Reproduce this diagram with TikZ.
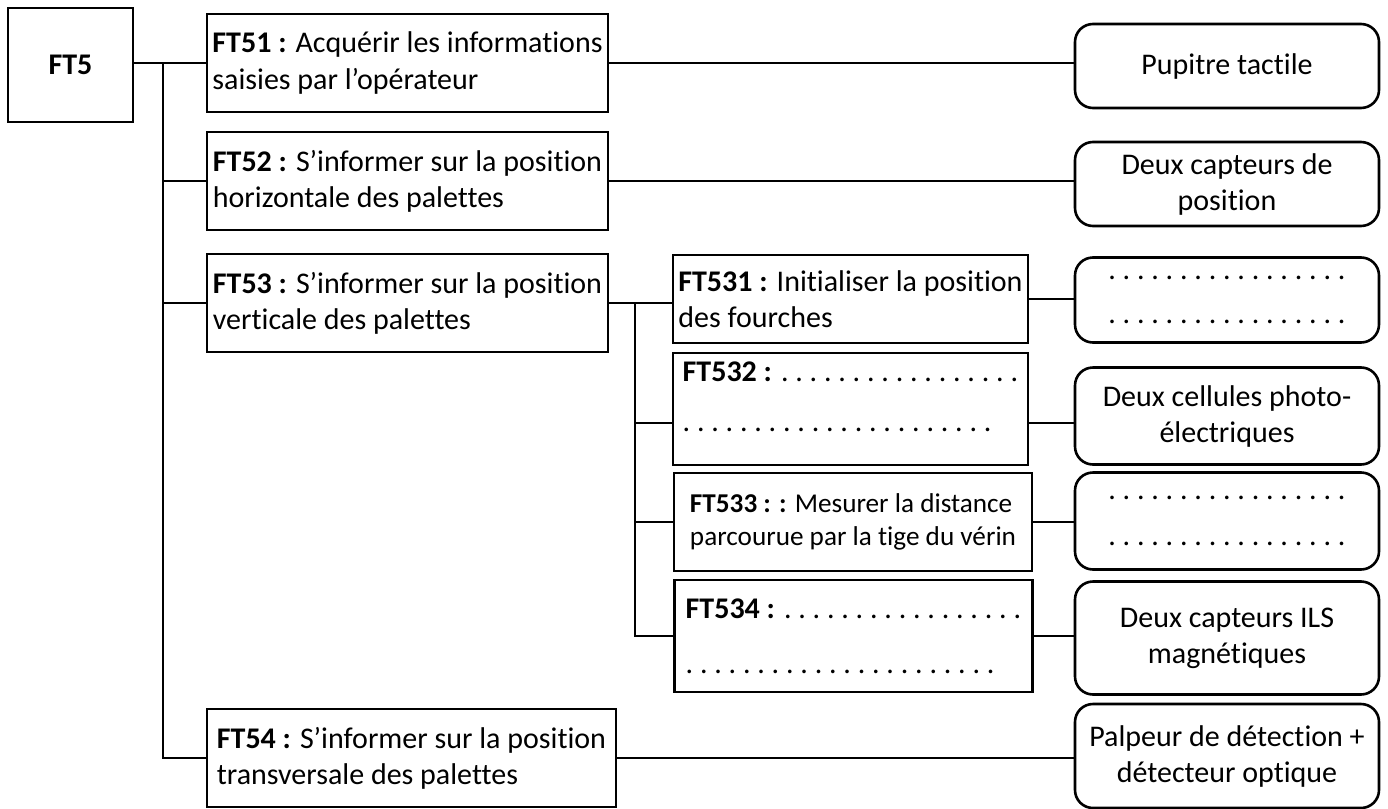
\documentclass[tikz,border=0pt]{standalone}
\usepackage{fontspec}
\setmainfont{Carlito}[Ligatures=NoCommon]
\usepackage{tikz}

% ligne de points a completer
\newcommand\pointilles[1]{.\foreach \i in {2,...,#1}{\ .}}

\begin{document}
\begin{tikzpicture}[
  x=0.5pt,y=-0.5pt,
  every node/.style={draw,line width=1.3pt,align=left,inner sep=0pt,
    font=\fontsize{15}{18}\selectfont},
  func/.style={minimum width=200.5pt,minimum height=49pt},
  subfunc/.style={minimum width=177.5pt,minimum height=44pt},
  solution/.style={rounded corners=9pt,align=center,minimum width=152pt,minimum height=42pt},
  edge/.style={line width=1pt}
  ]
  \useasboundingbox (0,0) rectangle (1388,809);

  % fonctions
  \node[font=\fontsize{15}{18}\selectfont\bfseries,minimum width=62.5pt,minimum height=57pt] (ft5) at (70.5,65) {FT5};

  \node[func] (ft51) at (407.5,63)  {\textbf{FT51 :} Acquérir les informations\\saisies par l’opérateur};
  \node[func] (ft52) at (407.5,181) {\textbf{FT52 :} S’informer sur la position\\horizontale des palettes};
  \node[func] (ft53) at (407.5,303) {\textbf{FT53 :} S’informer sur la position\\verticale des palettes};
  \node[func,minimum width=204.5pt] (ft54) at (411.5,758) {\textbf{FT54 :} S’informer sur la position\\transversale des palettes};

  \node[subfunc] (ft531) at (850.5,299) {\textbf{FT531 :} Initialiser la position\\des fourches};
  \node[subfunc,minimum height=56pt] (ft532) at (850.5,409) {\textbf{FT532 :} \pointilles{17}\\[7pt]\pointilles{22}\\[-6pt]\mbox{}};
  \node[subfunc,minimum width=179pt,minimum height=49pt,font=\fontsize{13.6}{16.5}\selectfont] (ft533) at (853,522) {\textbf{FT533 : :} Mesurer la distance\\parcourue par la tige du vérin};
  \node[subfunc,minimum width=179pt,minimum height=56pt] (ft534) at (853.5,636) {\textbf{FT534 :} \pointilles{17}\\[9.5pt]\pointilles{22}};

  % solutions
  \node[solution] (pupitre)  at (1227,66)  {Pupitre tactile};
  \node[solution] (capteurs) at (1227,184) {Deux capteurs de\\position};
  \node[solution,minimum height=42.5pt] (vide1) at (1227,300) {\pointilles{17}\\[4pt]\pointilles{17}};
  \node[solution,minimum height=48.5pt] (cellules) at (1227,416) {Deux cellules photo-\\électriques};
  \node[solution,minimum height=48.5pt] (vide3) at (1227,521) {\pointilles{17}\\[5pt]\pointilles{17}};
  \node[solution,minimum height=56.5pt] (ils) at (1227,638) {Deux capteurs ILS\\magnétiques};
  \node[solution,minimum height=52pt] (palpeur) at (1227,756) {Palpeur de détection +\\détecteur optique};

  % liaisons
  \coordinate (tronc) at (163,0);
  \coordinate (sous) at (635,0);
  \coordinate (b532) at ([yshift=-7pt]ft532.west);
  \coordinate (c532) at ([yshift=-7pt]ft532.east);

  \draw[edge] (ft5.east |- ft51.west) -- (ft51.west);
  \draw[edge] (tronc |- ft51.west) -- (tronc |- ft54.west) -- (ft54.west);
  \draw[edge] (tronc |- ft52.west) -- (ft52.west);
  \draw[edge] (tronc |- ft53.west) -- (ft53.west);

  \draw[edge] (ft53.east) -- (ft53.east -| ft531.west);
  \draw[edge] (sous |- ft53.east) -- (sous |- ft534.west) -- (ft534.west);
  \draw[edge] (sous |- b532) -- (b532);
  \draw[edge] (sous |- ft533.west) -- (ft533.west);

  \draw[edge] (ft51.east) -- (ft51.east -| pupitre.west);
  \draw[edge] (ft52.east) -- (ft52.east -| capteurs.west);
  \draw[edge] (ft531.east) -- (ft531.east -| vide1.west);
  \draw[edge] (c532) -- (c532 -| cellules.west);
  \draw[edge] (ft533.east) -- (ft533.east -| vide3.west);
  \draw[edge] (ft534.east) -- (ft534.east -| ils.west);
  \draw[edge] (ft54.east) -- (ft54.east -| palpeur.west);
\end{tikzpicture}
\end{document}
